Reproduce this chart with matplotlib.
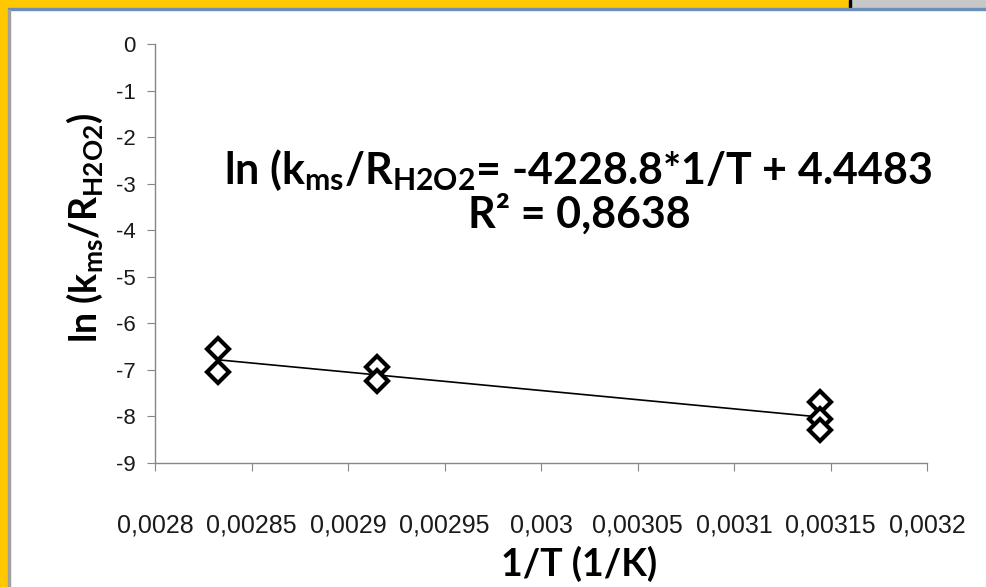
import numpy as np
import matplotlib
matplotlib.use('Agg')
import matplotlib.pyplot as plt
from matplotlib.patches import Rectangle
from matplotlib.ticker import FuncFormatter

plt.rcParams['font.family'] = ['Lato', 'DejaVu Sans']
plt.rcParams['mathtext.fontset'] = 'custom'
plt.rcParams['mathtext.rm'] = 'Lato:bold'
plt.rcParams['mathtext.it'] = 'Lato:bold'
plt.rcParams['mathtext.bf'] = 'Lato:bold'
plt.rcParams['mathtext.default'] = 'rm'

# data: 1/T (1/K) and ln(kms/RH2O2)
inv_T = [0.0028326, 0.0028326, 0.002915, 0.002915, 0.0031446, 0.0031446, 0.0031446]
ln_ratio = [-6.55, -7.05, -6.93, -7.24, -7.70, -8.05, -8.30]

x_ticks = [0.0028, 0.00285, 0.0029, 0.00295, 0.003, 0.00305, 0.0031, 0.00315, 0.0032]
y_ticks = [0, -1, -2, -3, -4, -5, -6, -7, -8, -9]

fig = plt.figure(figsize=(9.86, 5.87), dpi=100)

# screenshot frame: yellow border, grey tab at top right
fig.patches.append(Rectangle((0, 0), 8/986, 1, transform=fig.transFigure, color='#FFC800', zorder=0))
fig.patches.append(Rectangle((0, 1 - 8/587), 850/986, 8/587, transform=fig.transFigure, color='#FFC800', zorder=0))
fig.patches.append(Rectangle((851/986, 1 - 8/587), 135/986, 8/587, transform=fig.transFigure, color='#C8C8C8', zorder=0))
fig.patches.append(Rectangle((849/986, 1 - 8/587), 2/986, 8/587, transform=fig.transFigure, color='black', zorder=0))
fig.patches.append(Rectangle((8/986, 1 - 10/587), 978/986, 2/587, transform=fig.transFigure, color='#6A8FB8', zorder=0))
fig.patches.append(Rectangle((8/986, 0), 2/986, 1 - 10/587, transform=fig.transFigure, color='#A0A0A0', zorder=0))

ax = fig.add_axes([155/986, 1 - 463/587, 772/986, 419/587])

# linear trendline through the data, over the data range
coef = np.polyfit(inv_T, ln_ratio, 1)
xl = np.array([min(inv_T), max(inv_T)])
ax.plot(xl, np.polyval(coef, xl), color='black', lw=1.2, zorder=2)

ax.plot(inv_T, ln_ratio, linestyle='none', marker='D', markersize=11,
        markerfacecolor='white', markeredgecolor='black', markeredgewidth=3, zorder=3)

ax.set_xlim(0.0028, 0.0032)
ax.set_ylim(-9, 0)
ax.set_xticks(x_ticks)
ax.set_yticks(y_ticks)
ax.xaxis.set_major_formatter(FuncFormatter(lambda v, p: ('%g' % v).replace('.', ',')))
ax.yaxis.set_major_formatter(FuncFormatter(lambda v, p: '%d' % v))

for s in ['top', 'right']:
    ax.spines[s].set_visible(False)
for s in ['left', 'bottom']:
    ax.spines[s].set_color('#868686')
    ax.spines[s].set_linewidth(1)
ax.tick_params(axis='both', direction='out', length=6, color='#868686', labelcolor='#1a1a1a')
ax.tick_params(axis='x', pad=30)
ax.tick_params(axis='y', pad=8)
for lab in ax.get_xticklabels():
    lab.set_fontfamily(['Liberation Sans Narrow', 'Liberation Sans', 'DejaVu Sans'])
    lab.set_fontsize(18)
for lab in ax.get_yticklabels():
    lab.set_fontfamily(['Liberation Sans Narrow', 'Liberation Sans', 'DejaVu Sans'])
    lab.set_fontsize(16)

ax.set_xlabel('1/T (1/K)', fontsize=27, fontweight='bold', va='center')
ax.xaxis.set_label_coords(0.549, -0.24)
ax.set_ylabel(r'ln (k$_{\mathrm{ms}}$/R$_{\mathrm{H2O2}}$)', fontsize=27, fontweight='bold', va='center')
ax.yaxis.set_label_coords(-0.0907, 0.561)

ax.text(0.548, 0.699, r'ln (k$_{\mathrm{ms}}$/R$_{\mathrm{H2O2}}$= -4228.8*1/T + 4.4483',
        transform=ax.transAxes, ha='center', va='center', fontsize=31, fontweight='bold')
ax.text(0.55, 0.594, 'R² = 0,8638', transform=ax.transAxes, ha='center', va='center',
        fontsize=31, fontweight='bold')

fig.savefig('out.png', dpi=100)
